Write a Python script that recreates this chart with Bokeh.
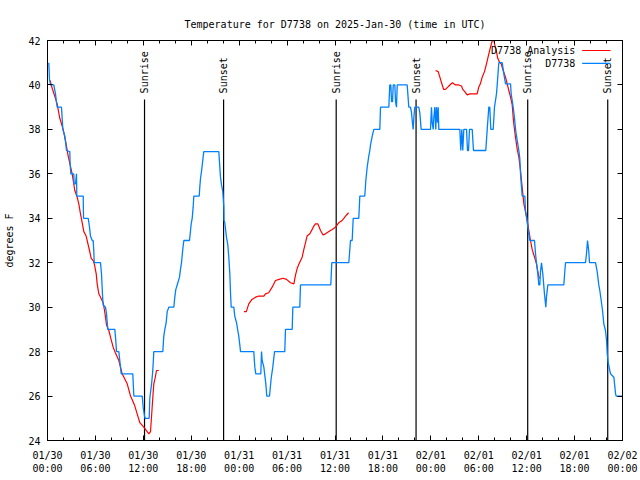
import math
from bokeh.plotting import figure
from bokeh.models import Range1d, FixedTicker, LinearAxis, Label, Arrow
from bokeh.embed import file_html
from bokeh.resources import INLINE
from bokeh.core.properties import value

FONT = "DejaVu Sans Mono"
FS = "10px"

title_text = "Temperature for D7738 on 2025-Jan-30 (time in UTC)"
y_label = "degrees F"
analysis_name = "D7738 Analysis"
obs_name = "D7738"

# x axis: hours since 2025-01-30 00:00 UTC
x_ticks = [0, 6, 12, 18, 24, 30, 36, 42, 48, 54, 60, 66, 72]
x_tick_labels = ["01/30\n00:00", "01/30\n06:00", "01/30\n12:00", "01/30\n18:00",
                 "01/31\n00:00", "01/31\n06:00", "01/31\n12:00", "01/31\n18:00",
                 "02/01\n00:00", "02/01\n06:00", "02/01\n12:00", "02/01\n18:00",
                 "02/02\n00:00"]
x_minor = list(range(0, 73, 2))
y_ticks = [24, 26, 28, 30, 32, 34, 36, 38, 40, 42]

sun_hours = [12.15, 22.05, 36.15, 46.15, 60.13, 70.15]
sun_names = ["Sunrise", "Sunset", "Sunrise", "Sunset", "Sunrise", "Sunset"]

# observed station temperatures (hours, degF)
obs_hours = [0.16, 0.25, 0.38, 0.79, 1.00, 1.13, 1.21, 1.75, 1.92, 2.17, 2.29, 2.38,
             2.79, 2.83, 2.92, 3.29, 3.33, 3.51, 3.63, 3.67, 4.47, 4.51, 5.10, 5.26,
             5.38, 5.60, 5.72, 5.80, 5.85, 6.64, 6.76, 6.89, 6.97, 7.26, 7.39, 7.55,
             8.43, 8.55, 8.64, 8.93, 9.02, 9.14, 9.23, 10.68, 10.81, 11.86, 11.98, 12.15,
             12.23, 12.73, 12.81, 13.02, 13.15, 13.24, 13.31, 14.44, 14.56, 14.69, 14.86, 14.99,
             15.19, 15.82, 15.94, 16.07, 16.24, 16.53, 16.65, 16.78, 16.94, 17.07, 17.78, 17.91,
             17.99, 18.12, 18.24, 18.32, 19.00, 19.07, 19.16, 19.28, 19.41, 19.50, 19.57, 21.45,
             21.54, 21.66, 21.79, 21.95, 22.08, 22.10, 22.20, 22.41, 22.58, 22.70, 22.83, 22.92,
             23.00, 23.33, 23.45, 23.67, 23.83, 23.95, 24.08, 24.17, 25.83, 25.96, 26.08, 26.71,
             26.80, 26.88, 27.09, 27.34, 27.46, 27.80, 28.01, 28.21, 28.43, 29.71, 29.80, 30.64,
             30.72, 31.59, 31.68, 35.47, 35.60, 37.73, 37.94, 38.15, 38.28, 38.98, 39.11, 39.73,
             39.86, 40.03, 40.23, 40.36, 40.45, 40.66, 40.86, 41.61, 41.70, 42.74, 42.86, 42.99,
             43.08, 43.20, 43.29, 43.49, 43.58, 43.70, 43.79, 45.04, 45.24, 45.45, 45.58, 45.70,
             45.79, 45.87, 45.99, 46.49, 46.62, 46.79, 47.96, 48.08, 48.17, 48.30, 48.37, 48.50,
             48.62, 48.71, 48.84, 48.92, 49.00, 51.63, 51.75, 51.88, 52.00, 52.13, 52.47, 52.59,
             52.72, 52.84, 53.18, 53.34, 54.88, 55.06, 55.26, 55.38, 55.51, 55.81, 55.97, 56.10,
             56.22, 56.31, 56.51, 56.94, 57.14, 57.35, 57.98, 58.06, 58.19, 58.31, 58.48, 58.64,
             58.82, 59.02, 59.14, 59.23, 59.32, 59.44, 59.77, 59.85, 59.98, 60.07, 60.19, 60.27,
             60.39, 60.98, 61.11, 61.23, 61.40, 61.52, 61.65, 61.73, 61.86, 62.02, 62.23, 62.40,
             62.48, 62.65, 64.65, 64.86, 67.37, 67.49, 67.62, 67.78, 67.87, 68.62, 68.83, 69.03,
             69.16, 69.33, 69.50, 69.66, 69.87, 70.00, 70.09, 70.21, 70.50, 70.92, 71.13, 71.21,
             71.96]
obs_temp = [41.0, 40.25, 40.0, 40.0, 39.6, 39.2, 39.0, 39.0, 38.0, 37.7, 37.35, 37.05,
            37.0, 36.5, 36.0, 36.0, 35.55, 35.55, 36.0, 35.0, 35.0, 34.0, 34.0, 33.6,
            33.2, 33.0, 33.0, 32.5, 32.0, 32.0, 31.5, 30.55, 30.1, 30.0, 29.7, 29.0,
            29.0, 28.5, 28.0, 28.0, 27.7, 27.3, 27.0, 27.0, 26.0, 26.0, 25.5, 25.1,
            25.0, 25.0, 25.9, 26.5, 27.0, 27.5, 28.0, 28.0, 28.7, 29.0, 29.3, 29.8,
            30.0, 30.0, 30.45, 30.8, 31.0, 31.35, 31.7, 32.0, 32.6, 33.0, 33.0, 33.45,
            33.75, 34.0, 34.5, 35.0, 35.0, 35.4, 35.8, 36.1, 36.5, 36.8, 37.0, 37.0,
            36.5, 35.85, 35.5, 35.2, 34.5, 33.9, 33.8, 33.15, 32.8, 32.25, 31.5, 30.6,
            30.0, 30.0, 29.6, 29.3, 28.95, 28.7, 28.3, 28.0, 28.0, 27.3, 27.0, 27.0,
            28.0, 27.6, 27.3, 26.55, 26.0, 26.0, 26.8, 27.3, 28.0, 28.0, 29.0, 29.0,
            30.0, 30.0, 31.0, 31.0, 32.0, 32.0, 33.0, 33.0, 34.0, 34.0, 35.0, 35.0,
            35.7, 36.3, 36.8, 37.05, 37.3, 37.7, 38.0, 38.0, 39.0, 39.0, 40.0, 40.0,
            39.25, 39.25, 40.0, 40.0, 39.25, 39.0, 40.0, 40.0, 39.0, 39.0, 38.75, 38.3,
            38.0, 38.5, 39.0, 39.0, 38.75, 38.0, 38.0, 39.0, 38.3, 38.0, 38.5, 39.0,
            38.0, 39.0, 38.3, 39.0, 38.0, 38.0, 37.05, 38.0, 37.05, 38.0, 38.0, 37.05,
            37.05, 38.0, 38.0, 37.05, 37.05, 38.0, 39.0, 39.0, 38.0, 38.0, 39.0, 39.3,
            39.6, 40.0, 41.0, 41.0, 40.5, 40.05, 40.05, 39.6, 39.3, 39.0, 38.5, 37.9,
            37.5, 37.05, 36.7, 36.0, 35.55, 35.0, 35.0, 34.35, 34.05, 33.8, 33.5, 33.3,
            33.0, 33.0, 32.4, 32.0, 31.5, 31.0, 31.0, 31.6, 32.0, 31.5, 30.6, 30.0,
            30.45, 31.0, 31.0, 32.0, 32.0, 32.4, 33.0, 32.5, 32.0, 32.0, 31.6, 31.0,
            30.75, 30.3, 29.85, 29.25, 28.95, 28.5, 27.9, 27.5, 27.0, 26.85, 26.1, 26.0,
            26.0]

NAN = float("nan")
# analysis temperatures (hours, degF); NaN marks gaps
ana_hours = [0.35, 0.46, 1.21, 1.54, 1.96, 2.30, 2.59, 3.09, 3.42, 3.71, 3.92, 4.13,
             4.34, 4.55, 4.84, 5.26, 5.47, 5.72, 5.89, 6.10, 6.22, 6.43, 6.64, 6.97,
             7.14, 7.26, 7.39, 7.68, 7.89, 8.22, 8.50, 8.93, 9.14, 9.35, 9.98, 10.40,
             10.89, 11.35, 11.56, 12.06, 12.69, 12.90, 13.02, 13.19, 13.31, 13.50, 13.65, 13.94,
             NAN,
             24.60, 24.90, 25.20, 25.60, 26.05, 26.46, 27.09, 27.30, 27.70, 28.13, 28.55, 29.00,
             29.50, 29.93, 30.43, 30.85, 31.06, 31.27, 31.50, 31.89, 32.10, 32.31, 32.50, 32.85,
             33.14, 33.35, 33.55, 33.85, 34.19, 34.50, 34.81, 35.23, 35.65, 36.06, 36.48, 36.90,
             37.32, 37.70,
             NAN,
             48.60, 48.92, 49.13, 49.34, 49.60, 49.84, 50.25, 50.70, 51.09, 51.50, 51.84, 52.00,
             52.25, 52.55, 52.88, 53.38, 53.80, 54.00, 54.20, 54.43, 54.72, 54.97, 55.26, 55.47,
             55.70, 55.90, 56.01, 56.22, 56.38, 56.64, 56.81, 57.06, 57.35, 57.56, 57.77, 57.98,
             58.19, 58.31, 58.39, 58.60, 58.82, 59.02, 59.23, 59.35, 59.52, 59.65, 59.85, 60.07,
             60.27, 60.48, 60.69, 60.98, 61.23, 61.52, 61.65]
ana_temp = [40.2, 40.0, 39.15, 38.5, 38.0, 37.4, 36.8, 36.0, 35.25, 34.95, 34.65, 34.2,
            33.8, 33.4, 33.2, 32.55, 32.2, 32.1, 31.9, 31.5, 31.05, 30.6, 30.45, 30.2,
            29.85, 29.55, 29.2, 28.95, 28.65, 28.2, 27.95, 27.6, 27.3, 27.0, 26.55, 26.0,
            25.6, 25.05, 24.8, 24.6, 24.3, 24.4, 25.05, 25.95, 26.55, 26.85, 27.15, 27.15,
            NAN,
            29.8, 29.8, 30.15, 30.35, 30.45, 30.5, 30.5, 30.6, 30.65, 30.9, 31.2, 31.25,
            31.3, 31.25, 31.1, 31.05, 31.45, 31.75, 31.95, 32.25, 32.6, 32.9, 33.2, 33.3,
            33.5, 33.65, 33.75, 33.75, 33.45, 33.25, 33.3, 33.4, 33.5, 33.6, 33.8, 33.9,
            34.1, 34.25,
            NAN,
            40.65, 40.6, 40.35, 40.1, 39.8, 39.8, 39.95, 40.1, 40.0, 40.0, 39.95, 39.8,
            39.7, 39.55, 39.6, 39.6, 39.6, 39.9, 40.05, 40.35, 40.6, 40.95, 41.4, 41.7,
            42.0, 42.0, 41.8, 41.5, 41.2, 41.0, 40.95, 40.65, 40.35, 40.05, 39.75, 39.45,
            39.1, 38.55, 38.25, 37.65, 37.1, 36.75, 36.15, 35.7, 35.1, 34.65, 34.3, 33.9,
            33.45, 33.0, 32.6, 32.25, 31.95, 31.35, 31.3]

RED = "#ff0000"
BLUE = "#0080ff"

p = figure(width=640, height=480, output_backend="svg", toolbar_location=None,
           x_range=Range1d(0, 72), y_range=Range1d(24, 42),
           min_border_left=47, min_border_right=18, min_border_top=40, min_border_bottom=40)
p.title.text = title_text
p.title.text_font = FONT
p.title.text_font_size = FS
p.title.text_font_style = "normal"
p.title.text_color = "black"
p.title.align = "center"
p.title.standoff = 22
p.background_fill_color = "white"
p.border_fill_color = "white"
p.outline_line_color = "black"
p.outline_line_width = 1
p.xgrid.visible = False
p.ygrid.visible = False

xt = FixedTicker(ticks=x_ticks, minor_ticks=x_minor)
yt = FixedTicker(ticks=y_ticks, minor_ticks=[])

xa = p.xaxis[0]
xa.ticker = xt
xa.major_label_overrides = {t: l for t, l in zip(x_ticks, x_tick_labels)}
ya = p.yaxis[0]
ya.ticker = yt
ya.axis_label = y_label
ya.axis_label_standoff = 10
for ax in (xa, ya):
    ax.major_label_text_font = FONT
    ax.major_label_text_font_size = FS
    ax.major_label_text_color = "black"
    ax.axis_label_text_font = FONT
    ax.axis_label_text_font_size = FS
    ax.axis_label_text_font_style = "normal"
    ax.axis_label_text_color = "black"
    ax.axis_line_color = "black"
    ax.major_tick_line_color = "black"
    ax.minor_tick_line_color = "black"
    ax.major_tick_in = 5
    ax.major_tick_out = 0
    ax.minor_tick_in = 3
    ax.minor_tick_out = 0
xa.major_label_standoff = 9
ya.major_label_standoff = 7

# mirrored tick marks on top and right (no labels drawn)
top = LinearAxis(ticker=xt, major_label_text_color=None, major_label_standoff=0,
                 major_tick_in=5, major_tick_out=0, minor_tick_in=3, minor_tick_out=0,
                 axis_line_color="black")
right = LinearAxis(ticker=yt, major_label_text_color=None, major_label_standoff=0,
                   major_tick_in=5, major_tick_out=0, minor_tick_in=0, minor_tick_out=0,
                   axis_line_color="black")
p.add_layout(top, "above")
p.add_layout(right, "right")

# sunrise / sunset markers
p.segment(x0=sun_hours, y0=[24] * len(sun_hours), x1=sun_hours, y1=[39.35] * len(sun_hours),
          line_color="black", line_width=1.2)
p.text(x=sun_hours, y=[39.62] * len(sun_hours), text=sun_names, angle=math.pi / 2,
       text_align="left", text_baseline="middle", text_font=value(FONT),
       text_font_size=FS, text_color="black")

p.line(ana_hours, ana_temp, line_color=RED, line_width=1.2)
p.line(obs_hours, obs_temp, line_color=BLUE, line_width=1.3)

# gnuplot-style key (text then sample line)
for name, col, yy in ((analysis_name, RED, 41.55), (obs_name, BLUE, 40.97)):
    p.add_layout(Label(x=66.1, y=yy, text=name, text_align="right", text_baseline="middle",
                       text_font=FONT, text_font_size=FS, text_color="black"))
    p.add_layout(Arrow(end=None, x_start=66.95, y_start=yy, x_end=70.5, y_end=yy,
                       line_color=col, line_width=1.2))

open("out.html", "w").write(file_html(p, INLINE))
